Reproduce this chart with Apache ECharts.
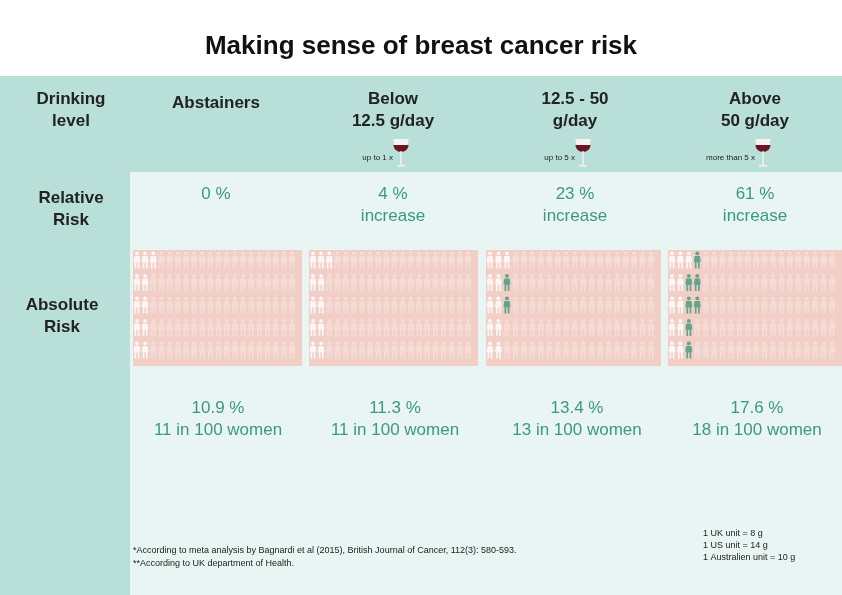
<!DOCTYPE html>
<html><head><meta charset="utf-8">
<script src="https://cdn.jsdelivr.net/npm/echarts@6/dist/echarts.min.js"></script>
<style>html,body{margin:0;padding:0}#c{width:842px;height:595px}</style>
</head><body><div id="c"></div>
<script>
// drinking levels
var levels = ['Abstainers', 'Below\n12.5 g/day', '12.5 - 50\ng/day', 'Above\n50 g/day'];
var glassNotes = ['', 'up to 1 x', 'up to 5 x', 'more than 5 x'];
var relativeRisk = ['0 %', '4 %\nincrease', '23 %\nincrease', '61 %\nincrease'];
var absoluteRisk = ['10.9 %\n11 in 100 women', '11.3 %\n11 in 100 women', '13.4 %\n13 in 100 women', '17.6 %\n18 in 100 women'];
// women out of 100: baseline cases and extra cases caused by drinking
var baseCases = [11, 11, 11, 11];
var extraCases = [0, 0, 2, 7];

var green = '#3a9a7d';
var person = 'path://M5,0A2.6,2.6 0 1 1 4.99,0Z M1.6,6H8.4L9.6,14H8.2V23H6V15H4V23H1.8V14H0.4Z';
var panelX = [133, 309, 486, 668];
var panelW = [169, 169, 175, 174];
var colX = [216, 393, 575, 755];

function bowl(gx, top) {
    var pts = [];
    for (var a = 0; a <= 12; a++) {
        var t = Math.PI * a / 12;
        pts.push([gx + 7.5 * Math.cos(t), top + (152 - top) * Math.sin(t) * (top < 142 ? 1 : 1)]);
    }
    pts.unshift([gx + 7.5, top]);
    return pts;
}

var chart = echarts.init(document.getElementById('c'));
var grids = [], xAxes = [], yAxes = [], series = [];
var g = [
    {type: 'rect', shape: {x: 0, y: 0, width: 842, height: 76}, style: {fill: '#fff'}},
    {type: 'rect', shape: {x: 0, y: 76, width: 842, height: 519}, style: {fill: '#e8f5f2'}},
    {type: 'rect', shape: {x: 0, y: 76, width: 842, height: 96}, style: {fill: '#b9dfd9'}},
    {type: 'rect', shape: {x: 0, y: 76, width: 130, height: 519}, style: {fill: '#b9dfd9'}},
    {type: 'text', x: 421, y: 47, style: {text: 'Making sense of breast cancer risk', font: 'bold 26px Arial', fill: '#111', align: 'center', verticalAlign: 'middle'}},
    {type: 'text', x: 71, y: 110, style: {text: 'Drinking\nlevel', font: 'bold 17px Arial', fill: '#222', align: 'center', verticalAlign: 'middle', lineHeight: 22}},
    {type: 'text', x: 71, y: 209, style: {text: 'Relative\nRisk', font: 'bold 17px Arial', fill: '#222', align: 'center', verticalAlign: 'middle', lineHeight: 22}},
    {type: 'text', x: 62, y: 316, style: {text: 'Absolute\nRisk', font: 'bold 17px Arial', fill: '#222', align: 'center', verticalAlign: 'middle', lineHeight: 22}},
    {type: 'text', x: 133, y: 557, style: {text: '*According to meta analysis by Bagnardi et al (2015), British Journal of Cancer, 112(3): 580-593.\n**According to UK department of Health.', font: '9px Arial', fill: '#222', lineHeight: 13, verticalAlign: 'middle'}},
    {type: 'text', x: 703, y: 546, style: {text: '1 UK unit = 8 g\n1 US unit = 14 g\n1 Australien unit = 10 g', font: '9px Arial', fill: '#222', lineHeight: 12, verticalAlign: 'middle'}}
];

levels.forEach(function (lv, i) {
    var hy = i === 0 ? 103 : 110;
    g.push({type: 'text', x: colX[i], y: hy, style: {text: lv, font: 'bold 17px Arial', fill: '#222', align: 'center', verticalAlign: 'middle', lineHeight: 22}});
    g.push({type: 'text', x: colX[i], y: i === 0 ? 194 : 205, style: {text: relativeRisk[i], font: '17px Arial', fill: green, align: 'center', verticalAlign: 'middle', lineHeight: 22}});
    g.push({type: 'text', x: colX[i] + 2, y: 419, style: {text: absoluteRisk[i], font: '17px Arial', fill: green, align: 'center', verticalAlign: 'middle', lineHeight: 22}});
    g.push({type: 'rect', shape: {x: panelX[i], y: 250, width: panelW[i], height: 116}, style: {fill: '#f1cfc7'}});
    if (glassNotes[i]) {
        var gx = colX[i] + 8;
        g.push({type: 'text', x: gx - 8, y: 158, style: {text: glassNotes[i], font: '8px Arial', fill: '#222', align: 'right', verticalAlign: 'middle'}});
        g.push({type: 'polygon', shape: {points: bowl(gx, 139)}, style: {fill: '#f7f2f0'}});
        g.push({type: 'polygon', shape: {points: bowl(gx, 145)}, style: {fill: '#6b1422'}});
        g.push({type: 'rect', shape: {x: gx - 0.7, y: 151, width: 1.4, height: 14}, style: {fill: '#f7f2f0'}});
        g.push({type: 'rect', shape: {x: gx - 4, y: 165, width: 8, height: 1.5}, style: {fill: '#f7f2f0'}});
    }

    grids.push({left: panelX[i] + 4, top: 260, width: panelW[i] - 14, height: 90});
    xAxes.push({gridIndex: i, type: 'value', min: 0, max: 19, show: false});
    yAxes.push({gridIndex: i, type: 'value', min: 0, max: 4, inverse: true, show: false});
    var data = [];
    for (var k = 0; k < 100; k++) {
        var col = k < baseCases[i] ? '#ffffff' : (k < baseCases[i] + extraCases[i] ? green : '#f6dfd9');
        data.push({value: [Math.floor(k / 5), k % 5], itemStyle: {color: col}});
    }
    series.push({type: 'scatter', xAxisIndex: i, yAxisIndex: i, symbol: person, symbolSize: [7, 17], data: data, silent: true, animation: false});
});

chart.setOption({
    animation: false,
    graphic: {elements: g},
    grid: grids, xAxis: xAxes, yAxis: yAxes, series: series
});
</script></body></html>
